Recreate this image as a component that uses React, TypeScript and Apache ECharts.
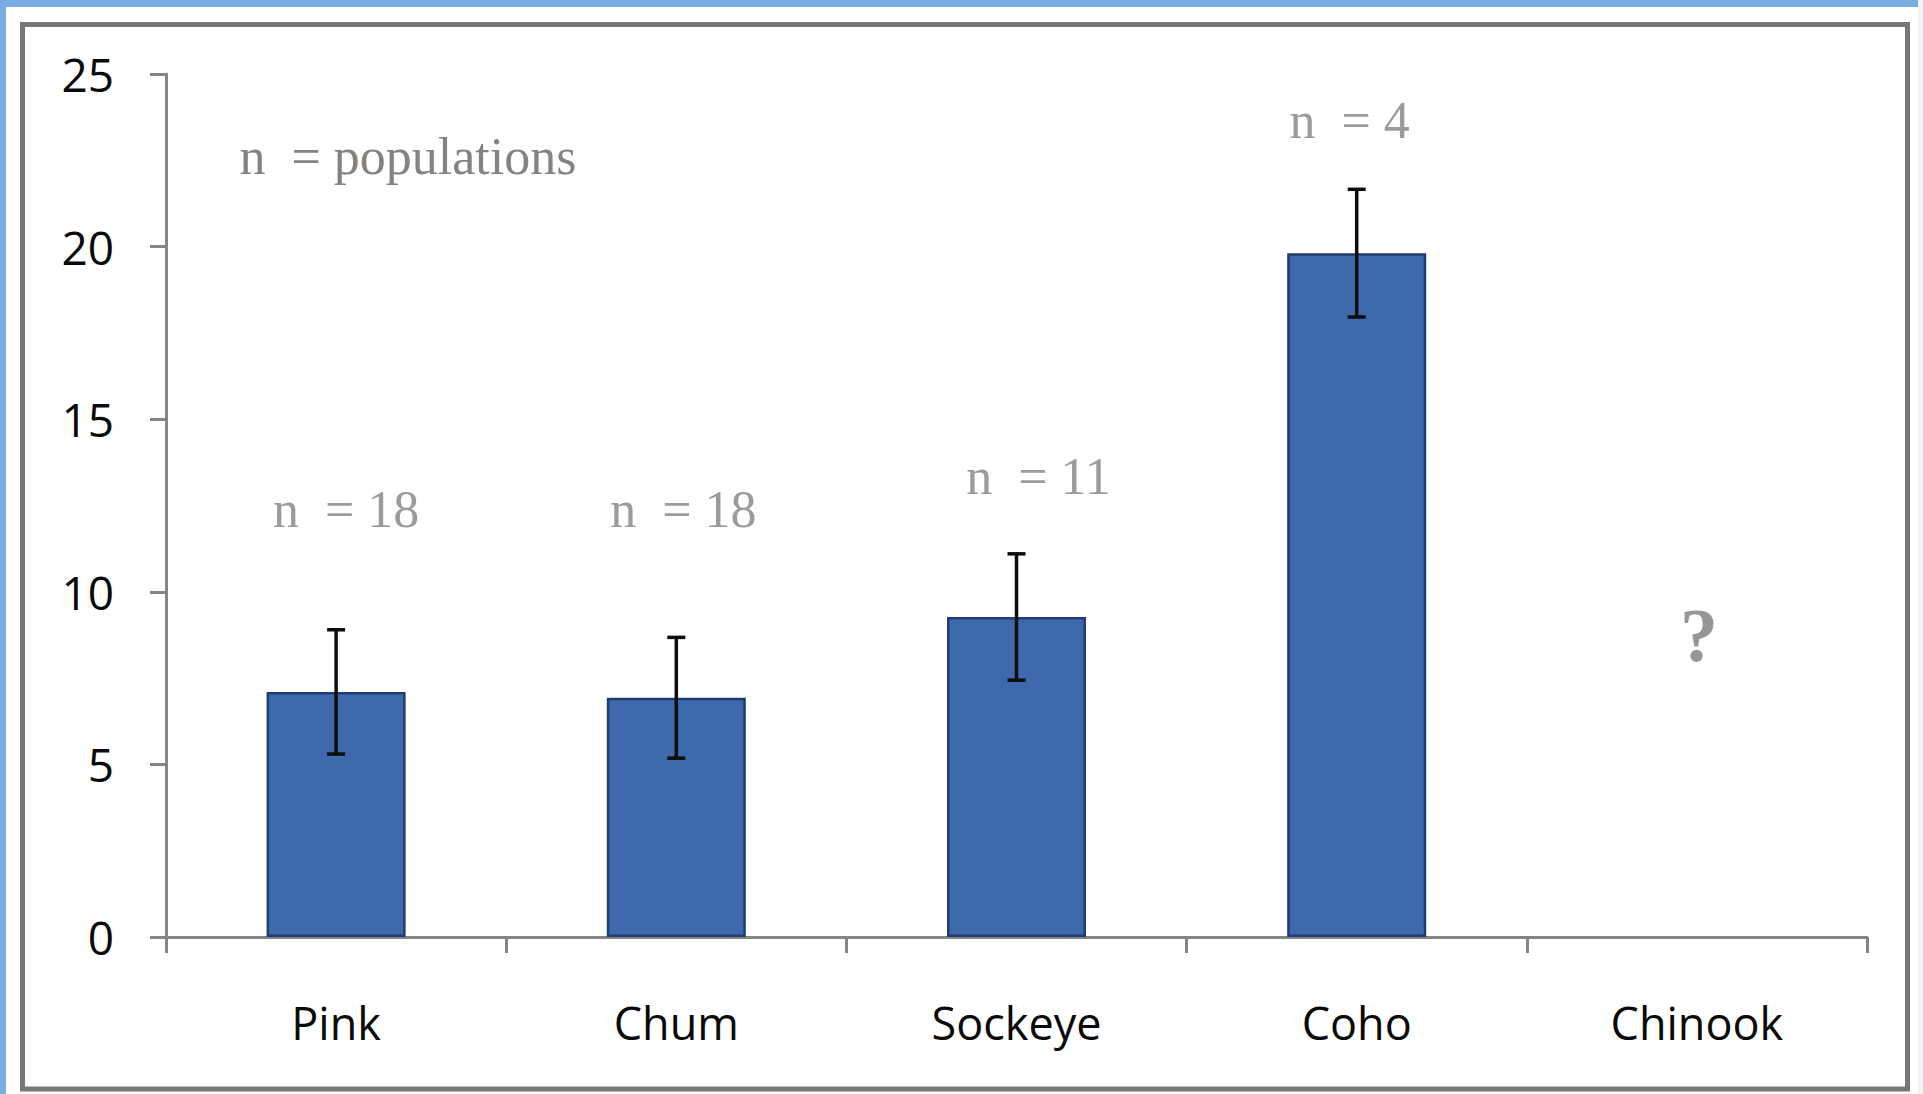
import React, { useEffect, useRef } from "react";
import * as echarts from "echarts";

const categories = ["Pink", "Chum", "Sockeye", "Coho", "Chinook"];
const means = [7.1, 6.93, 9.27, 19.81, null];
const errors = [1.8, 1.75, 1.83, 1.85, null];
const yTicks = { min: 0, max: 25, interval: 5 };
const nLabels = ["n  = 18", "n  = 18", "n  = 11", "n  = 4", "?"];
const nLabelY = [12.37, 12.37, 13.35, 23.64, 8.75];
const nLabelDx = [10, 7, 22, -7, 2];
const noteText = "n  = populations";

export default function App() {
  const ref = useRef<HTMLDivElement>(null);
  useEffect(() => {
    document.body.style.margin = "0";
    document.body.style.overflow = "hidden";
    const chart = echarts.init(ref.current!, null, { renderer: "svg" });
    const errData = means
      .map((m, i) => (m == null ? null : [i, m - (errors[i] as number), m + (errors[i] as number)]))
      .filter((d) => d != null);
    const labelData = nLabels.map((t, i) => ({
      value: [i, nLabelY[i], t],
      label: {
        offset: [nLabelDx[i], 0],
        fontWeight: t === "?" ? "bold" : "normal",
        fontSize: t === "?" ? 76 : 52,
        color: t === "?" ? "#7c7c7c" : "#85827f",
      },
    }));
    chart.setOption({
      animation: false,
      backgroundColor: "#ffffff",
      grid: { left: 166, top: 74, right: 56, bottom: 157, containLabel: false },
      xAxis: {
        type: "category",
        data: categories,
        axisLine: { lineStyle: { color: "#858585", width: 3 } },
        axisTick: { show: true, length: 16, lineStyle: { color: "#858585", width: 3 } },
        axisLabel: {
          color: "#0a0a0a",
          fontFamily: "Open Sans",
          fontSize: 45,
          margin: 62,
          lineHeight: 46,
        },
      },
      yAxis: {
        type: "value",
        min: yTicks.min,
        max: yTicks.max,
        interval: yTicks.interval,
        splitLine: { show: false },
        axisLine: { show: true, lineStyle: { color: "#858585", width: 3 } },
        axisTick: { show: true, length: 16, lineStyle: { color: "#858585", width: 3 } },
        axisLabel: { color: "#0a0a0a", fontFamily: "Open Sans", fontSize: 46, margin: 52 },
      },
      series: [
        {
          type: "bar",
          data: means,
          barWidth: 139,
          itemStyle: { color: "#3e6aad", borderColor: "#1f3d70", borderWidth: 2.5 },
        },
        {
          type: "custom",
          data: errData,
          z: 5,
          renderItem: (params: any, api: any) => {
            const lo = api.coord([api.value(0), api.value(1)]);
            const hi = api.coord([api.value(0), api.value(2)]);
            const cap = 9;
            const style = { stroke: "#0d0d0d", lineWidth: 3.5 };
            return {
              type: "group",
              children: [
                { type: "line", shape: { x1: lo[0], y1: lo[1], x2: hi[0], y2: hi[1] }, style },
                { type: "line", shape: { x1: lo[0] - cap, y1: lo[1], x2: lo[0] + cap, y2: lo[1] }, style },
                { type: "line", shape: { x1: hi[0] - cap, y1: hi[1], x2: hi[0] + cap, y2: hi[1] }, style },
              ],
            };
          },
        },
        {
          type: "scatter",
          data: labelData,
          symbolSize: 0,
          silent: true,
          label: {
            show: true,
            position: "inside",
            formatter: (p: any) => p.value[2],
            color: "#85827f",
            fontFamily: "Liberation Serif",
            fontSize: 52,
          },
        },
      ],
      graphic: [
        { type: "rect", shape: { x: 0, y: 0, width: 1923, height: 7 }, style: { fill: "#79ade4" }, silent: true },
        { type: "rect", shape: { x: 0, y: 0, width: 6, height: 1094 }, style: { fill: "#79ade4" }, silent: true },
        { type: "rect", shape: { x: 1918, y: 0, width: 5, height: 1094 }, style: { fill: "#eef5fc" }, silent: true },
        {
          type: "rect",
          shape: { x: 22.5, y: 24.5, width: 1885, height: 1064.5 },
          style: { fill: "none", stroke: "#777777", lineWidth: 5 },
          silent: true,
        },
        {
          type: "text",
          x: 408,
          y: 156,
          style: {
            text: noteText,
            fill: "#85827f",
            font: "52px 'Liberation Serif'",
            textAlign: "center",
            textVerticalAlign: "middle",
          },
          silent: true,
        },
      ],
    });
    return () => chart.dispose();
  }, []);
  return (
    <div
      ref={ref}
      style={{ position: "fixed", left: 0, top: 0, width: 1923, height: 1094 }}
    />
  );
}
